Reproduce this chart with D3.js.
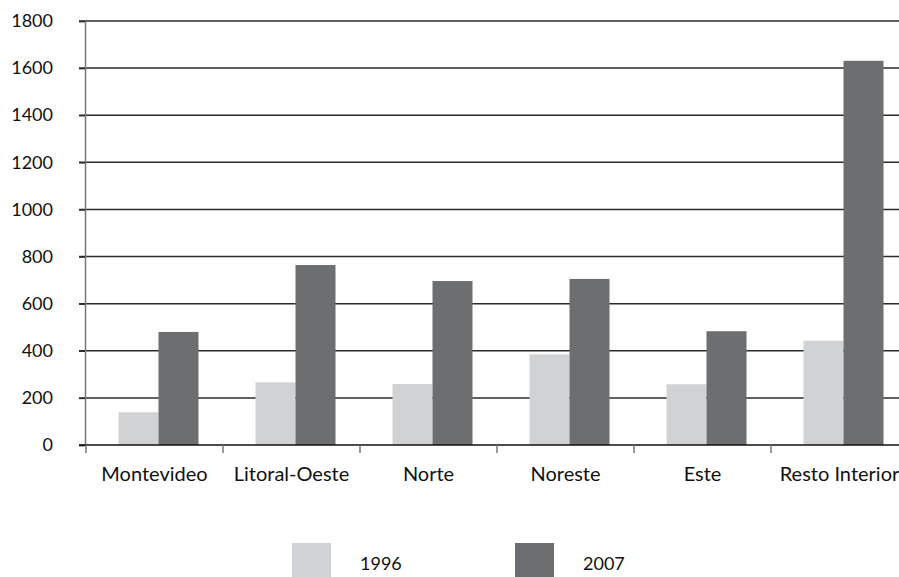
<!DOCTYPE html>
<html>
<head>
<meta charset="utf-8">
<script src="https://cdn.jsdelivr.net/npm/d3@7"></script>
<style>
  body { margin: 0; background: #fff; }
  svg { display: block; font-family: "Lato", "Open Sans", sans-serif; }
</style>
</head>
<body>
<svg id="chart" width="899" height="577"></svg>
<script>
// data
var regions = ["Montevideo", "Litoral-Oeste", "Norte", "Noreste", "Este", "Resto Interior"];
var years = ["1996", "2007"];
var values1996 = [139, 266, 259, 385, 258, 443];
var values2007 = [480, 764, 696, 705, 483, 1631];
var yTicks = [0, 200, 400, 600, 800, 1000, 1200, 1400, 1600, 1800];
var colors = ["#d1d2d4", "#6d6e70"];

var svg = d3.select("#chart");

var xScale = d3.scaleBand()
    .domain(regions)
    .range([86, 908]);

var yScale = d3.scaleLinear()
    .domain([0, 1800])
    .range([445, 21]);

// bars sit a bit right of the band center, as in the original
var bw = xScale.bandwidth();
var xInner = d3.scaleBand()
    .domain(years)
    .range([bw / 2 - 36, bw / 2 + 44]);

// gridlines
svg.append("g")
    .selectAll("line")
    .data(yTicks.slice(1))
    .enter()
    .append("line")
    .attr("x1", 79)
    .attr("x2", 899)
    .attr("y1", function (d) { return yScale(d); })
    .attr("y2", function (d) { return yScale(d); })
    .attr("stroke", "#2b2b2b")
    .attr("stroke-width", 1.5);

// bars
var rows = regions.map(function (r, i) {
    return { region: r, vals: [values1996[i], values2007[i]] };
});

var groups = svg.append("g")
    .selectAll("g")
    .data(rows)
    .enter()
    .append("g")
    .attr("transform", function (d) { return "translate(" + xScale(d.region) + ",0)"; });

groups.selectAll("rect")
    .data(function (d) { return d.vals.map(function (v, j) { return { year: years[j], v: v, j: j }; }); })
    .enter()
    .append("rect")
    .attr("x", function (d) { return xInner(d.year); })
    .attr("width", xInner.bandwidth())
    .attr("y", function (d) { return yScale(d.v); })
    .attr("height", function (d) { return yScale(0) - yScale(d.v); })
    .attr("fill", function (d) { return colors[d.j]; });

// y axis
var yAxis = d3.axisLeft(yScale)
    .tickValues(yTicks)
    .tickSize(6)
    .tickPadding(26)
    .tickFormat(d3.format("d"));

var yG = svg.append("g")
    .attr("transform", "translate(85,0)")
    .call(yAxis);
yG.select(".domain").attr("stroke", "#777").attr("stroke-width", 1.5);
yG.selectAll(".tick line").attr("stroke", "#2b2b2b").attr("stroke-width", 1.5);
yG.selectAll(".tick text")
    .attr("font-size", 18)
    .attr("fill", "#111")
    .attr("font-family", "Lato, sans-serif");

// x axis
var xAxis = d3.axisBottom(xScale)
    .tickSize(0)
    .tickPadding(22);

var xG = svg.append("g")
    .attr("transform", "translate(0,445)")
    .call(xAxis);
xG.select(".domain").remove();
xG.selectAll(".tick text")
    .attr("font-size", 20)
    .attr("fill", "#111")
    .attr("font-family", "Lato, sans-serif");

// baseline and category separators
svg.append("line")
    .attr("x1", 79).attr("x2", 899)
    .attr("y1", yScale(0)).attr("y2", yScale(0))
    .attr("stroke", "#111").attr("stroke-width", 1.5);

svg.append("g")
    .selectAll("line")
    .data(regions)
    .enter()
    .append("line")
    .attr("x1", function (d) { return xScale(d); })
    .attr("x2", function (d) { return xScale(d); })
    .attr("y1", yScale(0))
    .attr("y2", yScale(0) + 8)
    .attr("stroke", "#777")
    .attr("stroke-width", 1.5);

// legend
var legendX = [292, 515];
var legend = svg.append("g")
    .selectAll("g")
    .data(years)
    .enter()
    .append("g")
    .attr("transform", function (d, i) { return "translate(" + legendX[i] + ",543)"; });

legend.append("rect")
    .attr("width", 39)
    .attr("height", 36)
    .attr("fill", function (d, i) { return colors[i]; });

legend.append("text")
    .attr("x", 68)
    .attr("y", 27)
    .attr("font-size", 18)
    .attr("fill", "#111")
    .text(function (d) { return d; });
</script>
</body>
</html>
